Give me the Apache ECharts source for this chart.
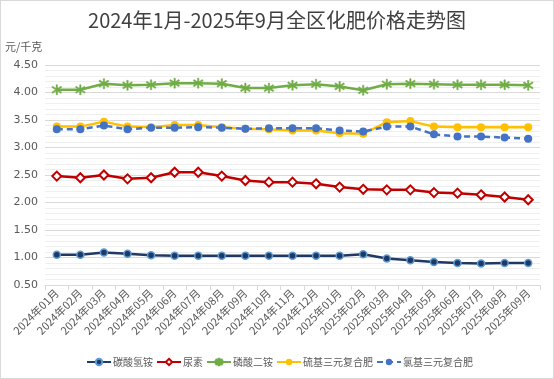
<!DOCTYPE html>
<html><head><meta charset="utf-8">
<script src="https://cdn.jsdelivr.net/npm/echarts@6/dist/echarts.min.js"></script>
<style>
html,body{margin:0;padding:0;background:#fff;}
#c{position:absolute;left:0;top:0;width:552px;height:377px;border:1px solid #d9d9d9;}
</style></head><body>
<div id="c"></div>
<script>
const categories = ['2024年01月','2024年02月','2024年03月','2024年04月','2024年05月','2024年06月','2024年07月','2024年08月','2024年09月','2024年10月','2024年11月','2024年12月','2025年01月','2025年02月','2025年03月','2025年04月','2025年05月','2025年06月','2025年07月','2025年08月','2025年09月'];
const tanSuanQingAn = [1.05,1.05,1.09,1.07,1.04,1.03,1.03,1.03,1.03,1.03,1.03,1.03,1.03,1.06,0.98,0.95,0.92,0.90,0.89,0.90,0.90];
const niaoSu = [2.48,2.45,2.50,2.43,2.45,2.55,2.55,2.48,2.40,2.37,2.37,2.34,2.28,2.24,2.23,2.23,2.18,2.17,2.14,2.10,2.05];
const linSuanErAn = [4.05,4.05,4.16,4.13,4.14,4.17,4.17,4.16,4.08,4.08,4.13,4.15,4.11,4.04,4.15,4.16,4.15,4.14,4.14,4.14,4.13];
const liuJi = [3.38,3.38,3.47,3.38,3.37,3.41,3.41,3.37,3.34,3.33,3.31,3.31,3.26,3.25,3.46,3.48,3.38,3.37,3.37,3.37,3.37];
const lvJi = [3.33,3.33,3.40,3.33,3.36,3.36,3.37,3.36,3.34,3.35,3.35,3.35,3.31,3.29,3.38,3.38,3.24,3.20,3.20,3.18,3.16];
const seriesNames = ['碳酸氢铵','尿素','磷酸二铵','硫基三元复合肥','氯基三元复合肥'];
const yTicks = {min:0.5, max:4.5, interval:0.5};

const star = 'path://M4.3,0H5.7V10H4.3Z M0,2.6L0.8,1.4L10,7.4L9.2,8.6Z M0,7.4L9.2,1.4L10,2.6L0.8,8.6Z';
const font = '"Noto Sans CJK SC","Noto Sans",sans-serif';
const chart = echarts.init(document.getElementById('c'));
chart.setOption({
  animation:false,
  title:{text:'2024年1月-2025年9月全区化肥价格走势图',left:'center',top:4,
    textStyle:{fontSize:20,fontWeight:'normal',color:'#404040',fontFamily:font}},
  graphic:[{type:'text',left:4,top:40,style:{text:'元/千克',fontSize:11,fill:'#595959',fontFamily:font}}],
  legend:{bottom:6,left:80,itemWidth:24,itemHeight:8,itemGap:3,
    textStyle:{fontSize:10,color:'#595959',fontFamily:font,padding:[0,0,0,-3]},data:seriesNames},
  grid:{left:44,right:13,top:64,bottom:93},
  xAxis:{type:'category',data:categories,boundaryGap:true,
    axisLine:{lineStyle:{color:'#d9d9d9'}},
    axisTick:{show:true,alignWithLabel:false,length:5,lineStyle:{color:'#d9d9d9'}},
    axisLabel:{rotate:45,fontSize:11,color:'#595959',fontFamily:font,interval:0,margin:6}},
  yAxis:{type:'value',min:yTicks.min,max:yTicks.max,interval:yTicks.interval,
    axisLine:{show:false},axisTick:{show:false},
    axisLabel:{formatter:v=>v.toFixed(2),fontSize:11,color:'#595959',fontFamily:'"DejaVu Sans",sans-serif',margin:7},
    splitLine:{lineStyle:{color:'#d9d9d9'}},
    minorTick:{show:false,splitNumber:5},
    minorSplitLine:{show:true,lineStyle:{color:'#efefef'}}},
  series:[
    {name:seriesNames[0],type:'line',data:tanSuanQingAn,symbol:'circle',symbolSize:7,
      lineStyle:{color:'#1F3864',width:2.5},itemStyle:{color:'#1F3864',borderColor:'#5B9BD5',borderWidth:1.5}},
    {name:seriesNames[1],type:'line',data:niaoSu,symbol:'diamond',symbolSize:9,
      lineStyle:{color:'#C00000',width:2.5},itemStyle:{color:'#ffffff',borderColor:'#C00000',borderWidth:2}},
    {name:seriesNames[2],type:'line',data:linSuanErAn,symbol:star,symbolSize:10,
      lineStyle:{color:'#70AD47',width:2.5},itemStyle:{color:'#70AD47',borderColor:'#70AD47',borderWidth:0.5}},
    {name:seriesNames[3],type:'line',data:liuJi,symbol:'circle',symbolSize:8,
      lineStyle:{color:'#FFC000',width:2.5},itemStyle:{color:'#FFC000'}},
    {name:seriesNames[4],type:'line',data:lvJi,symbol:'circle',symbolSize:8,
      lineStyle:{color:'#4472C4',width:2.5,type:[6,4]},itemStyle:{color:'#4472C4'}}
  ]
});
</script></body></html>
